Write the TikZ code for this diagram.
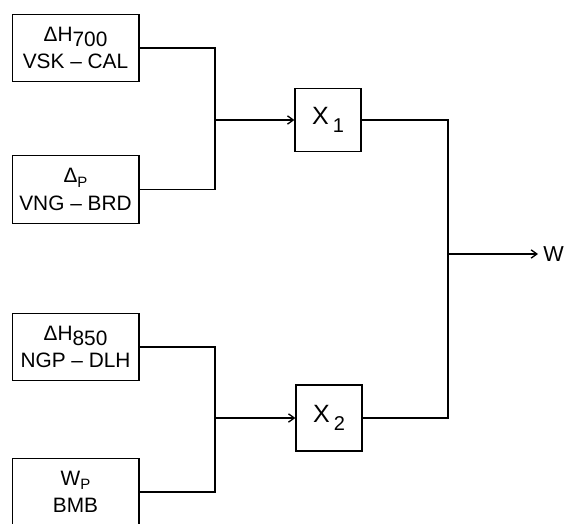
\documentclass[tikz,border=0pt]{standalone}
\usepackage{fontspec}
\setmainfont{Liberation Sans}
\usetikzlibrary{arrows.meta}
\usetikzlibrary{positioning}

\begin{document}
\begin{tikzpicture}[x=0.6pt, y=-0.6pt,
                blk/.style = {draw, thick, inner sep = 0mm, minimum width = 76pt, minimum height = 40.5pt,
                              align = center, font = \fontsize{12.5}{16.5}\selectfont},
                sq/.style = {draw, thick, inner sep = 0mm, minimum width = 39.5pt, minimum height = 38pt,
                             font = \fontsize{15}{18}\selectfont},
                arr/.style = {draw, thick, -{Straight Barb[length=3.5pt, width=5pt]}},
                ln/.style = {draw, thick},
            ]
            \useasboundingbox (0,0) rectangle (567,523);

            \node (hA) [blk] at (75.5,48){ΔH\raisebox{-0.5ex}{700}\\VSK -- CAL};
            \node (dP) [blk] at (75.5,189.5){Δ\raisebox{-0.4ex}{\small P}\\VNG -- BRD};
            \node (hB) [blk] at (75.5,347){ΔH\raisebox{-0.5ex}{850}\\NGP -- DLH};
            \node (wP) [blk] at (75.5,492){W\raisebox{-0.4ex}{\small P}\\BMB};

            \node (xA) [sq] at (328,120){X\,\raisebox{-0.6ex}{\fontsize{12}{14}\selectfont 1}};
            \node (xB) [sq, minimum height = 39.5pt] at (329,418){X\,\raisebox{-0.6ex}{\fontsize{12}{14}\selectfont 2}};

            \node (w) [anchor = west, inner sep = 0mm, font = \fontsize{13}{16}\selectfont] at (543,254){W};

            \coordinate (jA) at (215,120);
            \coordinate (jB) at (215,418);
            \coordinate (jC) at (448,254);

            \path[ln] (hA.east) -| (jA) |- (dP.east);
            \path[arr] (jA) -- (xA);
            \path[ln] (hB.east) -| (jB) |- (wP.east);
            \path[arr] (jB) -- (xB);
            \path[ln] (xA.east) -| (jC) |- (xB.east);
            \path[arr] (jC) -- ([xshift=-3pt]w.west);
        \end{tikzpicture}
\end{document}
